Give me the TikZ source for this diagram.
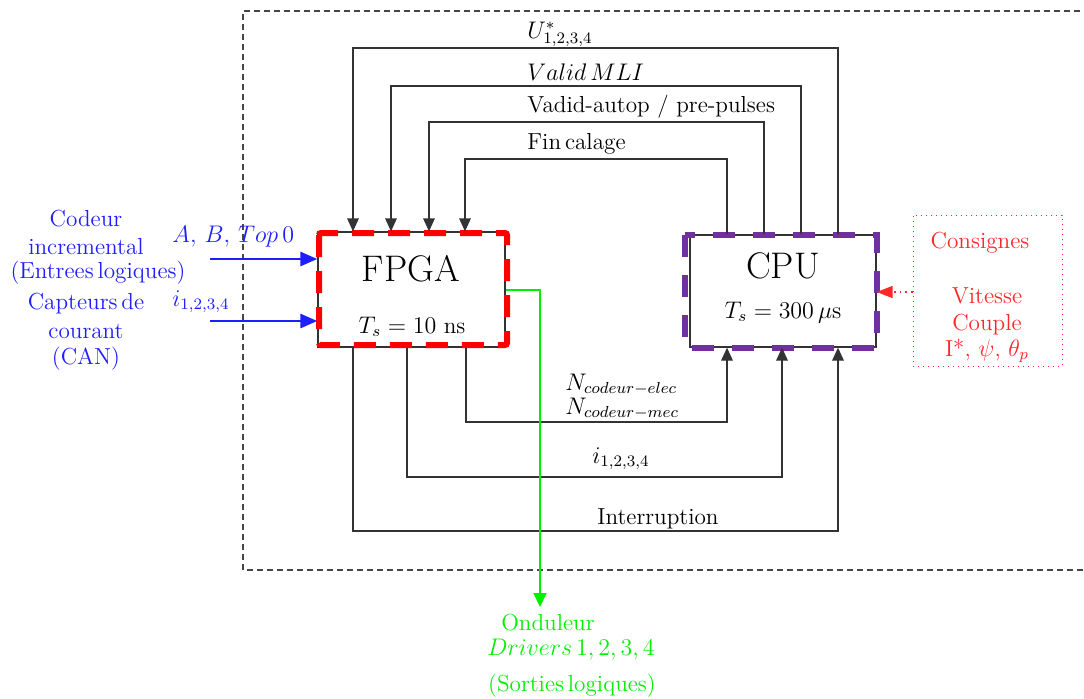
\documentclass[tikz,border=0pt]{standalone}
\usetikzlibrary{arrows.meta}
\definecolor{cblue}{RGB}{30,30,255}
\definecolor{cred}{RGB}{255,40,40}
\definecolor{cgreen}{RGB}{0,240,0}
\definecolor{cpurple}{RGB}{112,48,160}
\definecolor{cgrey}{RGB}{70,70,70}
\begin{document}
\begin{tikzpicture}[x=0.5pt,y=-0.5pt,
  every node/.style={font=\fontsize{11.6}{13.9}\selectfont, inner sep=0pt},
  big/.style={font=\fontsize{18.5}{22}\selectfont},
  wire/.style={line width=0.65pt, draw=black!80},
  tip/.style={-{Triangle[length=6.5pt,width=5.8pt]}},
  bluewire/.style={line width=1.4pt, draw=cblue, -{Triangle[length=8.5pt,width=7pt]}},
  box/.style={draw=black!80, line width=0.65pt}]
\useasboundingbox (0,0) rectangle (1084,698);
\fill[white] (0,0) rectangle (1084,698);
% outer dashed frame
\draw[cgrey, line width=0.7pt, dash pattern=on 3pt off 2pt] (1090,11) -- (243,11) -- (243,570) -- (1090,570);
% FPGA
\node[box, minimum width=93.5pt, minimum height=57.5pt] (fpga) at (411.5,289.5) {};
\draw[red, line width=3pt, dash pattern=on 11pt off 7pt, rounded corners=1pt] (319,233) rectangle (507,345);
\node[big, anchor=base] (fpgat) at (411,281) {FPGA};
\node[anchor=base] (fpgats) at (412,333) {$T_s = 10$ ns};
% CPU
\node[box, minimum width=93pt, minimum height=56pt] (cpu) at (783,291) {};
\draw[cpurple, line width=2.6pt, dash pattern=on 11pt off 9pt] (685,235) rectangle (877,348);
\node[big, anchor=base] (cput) at (783,278) {CPU};
\node[anchor=base] (cputs) at (783,318) {$T_s = 300\,\mu\mathrm{s}$};
% top wires CPU -> FPGA
\draw[wire,tip] (838,0 |- cpu.north) -- (838,48) -| (353,0 |- fpga.north);
\draw[wire,tip] (801,0 |- cpu.north) -- (801,86) -| (391,0 |- fpga.north);
\draw[wire,tip] (764,0 |- cpu.north) -- (764,122) -| (429,0 |- fpga.north);
\draw[wire,tip] (727,0 |- cpu.north) -- (727,159) -| (465,0 |- fpga.north);
\node[anchor=base west] (lu) at (527,38) {$U^*_{1,2,3,4}$};
\node[anchor=base west] (lv) at (527,80) {$Valid\,MLI$};
\node[anchor=base west] (la) at (527,112) {Vadid-autop / pre-pulses};
\node[anchor=base west] (lf) at (527,149) {Fin\,calage};
% bottom wires FPGA -> CPU
\draw[wire,tip] (466,0 |- fpga.south) |- (727,422) -- (727,0 |- cpu.south);
\draw[wire,tip] (407,0 |- fpga.south) |- (782,477) -- (782,0 |- cpu.south);
\draw[wire,tip] (353,0 |- fpga.south) |- (838,531) -- (838,0 |- cpu.south);
\node[anchor=base west] (ln1) at (565,390) {$N_{codeur-elec}$};
\node[anchor=base west] (ln2) at (565,414) {$N_{codeur-mec}$};
\node[anchor=base west] (li) at (592,463) {$i_{1,2,3,4}$};
\node[anchor=base west] (lint) at (597,524) {Interruption};
% blue inputs
\coordinate (inA) at (210,259);
\coordinate (inI) at (210,321);
\draw[bluewire] (inA) -- (inA -| fpga.west);
\draw[bluewire] (inI) -- (inI -| fpga.west);
\node[anchor=base west, text=cblue] (lab) at (172,242) {$A,\, B,\, Top\,0$};
\node[anchor=base west, text=cblue] (lii) at (172,306) {$i_{1,2,3,4}$};
\node[anchor=base, text=cblue] (c1) at (86,226) {Codeur};
\node[anchor=base, text=cblue] (c2) at (86,254) {incremental};
\node[anchor=base, text=cblue] (c3) at (98,278) {(Entrees\,logiques)};
\node[anchor=base, text=cblue] (c4) at (86,309) {Capteurs\,de};
\node[anchor=base, text=cblue] (c5) at (86,338) {courant};
\node[anchor=base, text=cblue] (c6) at (86,364) {(CAN)};
% red consignes
\node[draw=cred, dotted, line width=0.5pt, minimum width=74.5pt, minimum height=75.5pt] (cons) at (987.5,290.5) {};
\draw[cred, dotted, line width=0.8pt, -{Triangle[length=8pt,width=6pt]}] (cons.west |- 0,292) -- (cpu.east |- 0,292);
\node[anchor=base, text=cred] (r1) at (980,248) {Consignes};
\node[anchor=base, text=cred] (r2) at (987,303) {Vitesse};
\node[anchor=base, text=cred] (r3) at (987,330) {Couple};
\node[anchor=base, text=cred] (r4) at (987,356) {I*, $\psi$, $\theta_p$};
% green output
\coordinate (ond) at (540,607);
\draw[cgreen, line width=1pt, -{Triangle[length=7pt,width=6.5pt]}] (fpga.east |- 0,290) -| (ond);
\node[anchor=base, text=cgreen] (g1) at (548,630) {Onduleur};
\node[anchor=base, text=cgreen] (g2) at (571,655) {$Drivers\,1,2,3,4$};
\node[anchor=base, text=cgreen] (g3) at (572,691) {(Sorties\,logiques)};
\end{tikzpicture}
\end{document}
